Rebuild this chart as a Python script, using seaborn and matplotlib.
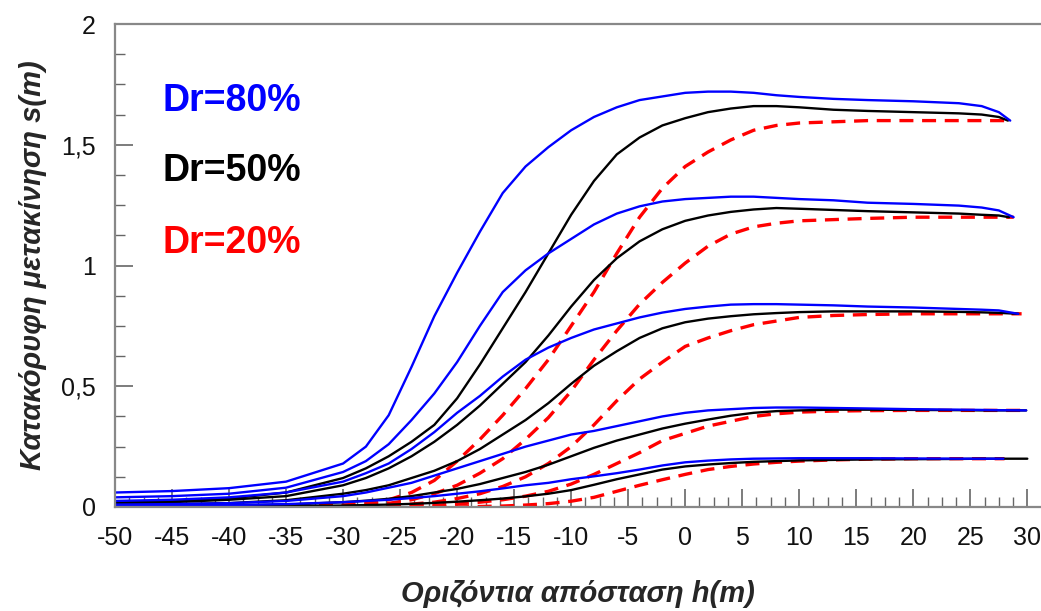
import matplotlib
matplotlib.use("Agg")
import matplotlib.pyplot as plt
import numpy as np
import pandas as pd
import seaborn as sns
from matplotlib.ticker import MultipleLocator, FuncFormatter

# ---------------- data ----------------
X_GRID = [-50, -45, -40, -35, -30, -28, -26, -24, -22, -20, -18, -16, -14, -12, -10,
          -8, -6, -4, -2, 0, 2, 4, 6, 8, 10, 13, 16, 20, 24, 26, 27.5]

LEVELS = ["1.6", "1.2", "0.8", "0.4", "0.2"]

# Dr = 80 % (blue)
DR80_16 = [.060, .066, .078, .105, .18, .25, .38, .58, .79, .97, 1.14, 1.30, 1.41, 1.49, 1.56,
           1.615, 1.655, 1.685, 1.70, 1.715, 1.72, 1.72, 1.715, 1.705, 1.698, 1.69, 1.685, 1.68, 1.672, 1.66, 1.635]
DR80_12 = [.04, .045, .055, .08, .145, .19, .26, .36, .47, .60, .75, .89, .98, 1.05, 1.11,
           1.17, 1.215, 1.245, 1.265, 1.275, 1.28, 1.285, 1.285, 1.28, 1.275, 1.27, 1.26, 1.255, 1.248, 1.24, 1.228]
DR80_08 = [.025, .03, .04, .06, .105, .14, .18, .24, .31, .39, .46, .54, .61, .66, .70,
           .735, .76, .785, .805, .82, .83, .838, .84, .84, .838, .835, .83, .826, .82, .817, .814]
DR80_04 = [.01, .012, .016, .025, .045, .06, .08, .10, .13, .16, .19, .22, .25, .275, .30,
           .315, .335, .355, .375, .39, .40, .405, .41, .412, .412, .41, .408, .405, .403, .402, .401]
DR80_02 = [.005, .006, .008, .012, .02, .025, .03, .037, .045, .055, .065, .077, .09, .10, .115,
           .127, .14, .155, .172, .185, .192, .197, .20, .201, .202, .202, .202, .201, .20, .20, .20]

# Dr = 50 % (black)
DR50_16 = [.02, .025, .035, .06, .12, .16, .21, .27, .34, .45, .59, .74, .89, 1.05, 1.21,
           1.35, 1.46, 1.53, 1.58, 1.61, 1.635, 1.65, 1.66, 1.66, 1.655, 1.645, 1.64, 1.635, 1.63, 1.625, 1.615]
DR50_12 = [.015, .02, .03, .045, .09, .12, .16, .21, .27, .34, .42, .51, .60, .71, .83,
           .94, 1.03, 1.10, 1.15, 1.185, 1.207, 1.222, 1.232, 1.238, 1.235, 1.23, 1.225, 1.22, 1.215, 1.21, 1.207]
DR50_08 = [.01, .012, .016, .028, .055, .07, .09, .12, .15, .19, .24, .30, .36, .43, .51,
           .585, .645, .70, .74, .765, .78, .79, .798, .803, .807, .81, .81, .81, .808, .806, .804]
DR50_04 = [.004, .005, .007, .01, .02, .026, .034, .045, .06, .075, .095, .12, .145, .175, .21,
           .245, .275, .30, .325, .345, .362, .378, .39, .397, .40, .403, .403, .402, .401, .40, .40]
DR50_02 = [.002, .002, .003, .004, .006, .008, .01, .013, .017, .022, .028, .035, .044, .055, .07,
           .092, .115, .135, .155, .168, .176, .182, .187, .19, .193, .195, .197, .198, .199, .20, .20]

# Dr = 20 % (red, dashed)
DR20_16 = [0, 0, 0, .002, .008, .015, .03, .06, .11, .19, .28, .38, .49, .61, .75,
           .89, 1.05, 1.20, 1.32, 1.41, 1.47, 1.52, 1.56, 1.58, 1.59, 1.595, 1.60, 1.60, 1.60, 1.60, 1.60]
DR20_12 = [0, 0, 0, .001, .004, .008, .015, .03, .055, .09, .14, .20, .28, .37, .48,
           .61, .73, .84, .93, 1.01, 1.08, 1.13, 1.16, 1.175, 1.185, 1.19, 1.195, 1.20, 1.20, 1.20, 1.20]
DR20_08 = [0, 0, 0, 0, .002, .004, .007, .012, .02, .035, .055, .085, .125, .18, .25,
           .34, .44, .53, .60, .665, .70, .73, .755, .77, .785, .793, .797, .80, .80, .80, .80]
DR20_04 = [0, 0, 0, 0, 0, .001, .002, .004, .007, .012, .02, .03, .045, .065, .095,
           .135, .18, .225, .275, .305, .335, .355, .375, .386, .393, .397, .399, .40, .40, .40, .40]
DR20_02 = [0, 0, 0, 0, 0, 0, 0, 0, 0, 0, .002, .004, .008, .014, .024,
           .04, .065, .09, .113, .135, .155, .168, .178, .185, .19, .195, .198, .20, .20, .20, .20]

# last point of each curve (x, y)
END_X = {"80": [28.5, 28.8, 29.2, 29.9, 27.9],
         "50": [28.3, 28.4, 29.2, 29.9, 30.0],
         "20": [28.3, 28.8, 29.5, 29.9, 28.0]}
END_Y = [1.60, 1.20, 0.80, 0.40, 0.20]

Y_TICKS = [0, 0.5, 1, 1.5, 2]
X_TICKS = list(range(-50, 31, 5))

LABEL_TEXT = {"80": "Dr=80%", "50": "Dr=50%", "20": "Dr=20%"}

# ---------------- build a long table ----------------
series = {"80": [DR80_16, DR80_12, DR80_08, DR80_04, DR80_02],
          "50": [DR50_16, DR50_12, DR50_08, DR50_04, DR50_02],
          "20": [DR20_16, DR20_12, DR20_08, DR20_04, DR20_02]}
rows = []
for dr, curves in series.items():
    for i, (lev, vals) in enumerate(zip(LEVELS, curves)):
        xs = list(X_GRID) + [END_X[dr][i]]
        ys = list(vals) + [END_Y[i]]
        for x, y in zip(xs, ys):
            if x <= END_X[dr][i]:
                rows.append({"h": x, "s": y, "Dr": dr, "level": lev})
df = pd.DataFrame(rows)

# ---------------- styling ----------------
sns.set_style("ticks")
plt.rcParams["font.family"] = ["Liberation Sans", "DejaVu Sans"]
plt.rcParams["axes.unicode_minus"] = False

fig = plt.figure(figsize=(10.41, 6.11), dpi=100)
ax = fig.add_axes([115 / 1041, (611 - 507) / 611, 1 - 115 / 1041, (507 - 24) / 611])

styles = {"80": dict(color="#0000FF", lw=1.7, dash=None),
          "50": dict(color="#000000", lw=1.7, dash=None),
          "20": dict(color="#FF0000", lw=2.4, dash=(4.2, 2.6))}

for dr in ["20", "50", "80"]:
    sub = df[df["Dr"] == dr]
    st = styles[dr]
    sns.lineplot(data=sub, x="h", y="s", units="level", estimator=None, sort=False,
                 color=st["color"], linewidth=st["lw"], ax=ax, legend=False,
                 dashes=False)
    for ln in ax.lines[-len(LEVELS):]:
        ln.set_solid_joinstyle("round")
        if st["dash"] is not None:
            ln.set_dashes(st["dash"])
            ln.set_dash_capstyle("butt")

ax.set_xlim(-50, 31.2)
ax.set_ylim(0, 2)

ax.set_xticks(X_TICKS)
ax.set_yticks(Y_TICKS)
ax.xaxis.set_minor_locator(MultipleLocator(1.25))
ax.yaxis.set_minor_locator(MultipleLocator(0.125))
ax.yaxis.set_major_formatter(FuncFormatter(lambda v, p: ("%g" % v).replace(".", ",")))
ax.xaxis.set_major_formatter(FuncFormatter(lambda v, p: "%d" % v))

ax.tick_params(which="major", direction="in", length=13, width=1.2, color="#666666",
               labelsize=18, pad=14, labelcolor="#111111")
ax.tick_params(which="minor", direction="in", length=7, width=1.0, color="#666666")
ax.tick_params(axis="x", which="both", top=False)
ax.tick_params(axis="y", which="both", right=False)

for side in ["left", "bottom", "top"]:
    ax.spines[side].set_color("#888888")
    ax.spines[side].set_linewidth(1.6)
ax.spines["right"].set_visible(False)

ax.set_xlabel("Οριζόντια απόσταση h(m)", fontsize=21, fontweight="bold",
              fontstyle="italic", labelpad=21)
ax.set_ylabel("Κατακόρυφη μετακίνηση s(m)", fontsize=21, fontweight="bold",
              fontstyle="italic", labelpad=10)

label_y = {"80": 1.68, "50": 1.39, "20": 1.092}
label_c = {"80": "#0000FF", "50": "#000000", "20": "#FF0000"}
for dr in ["80", "50", "20"]:
    ax.text(-45.8, label_y[dr], LABEL_TEXT[dr], color=label_c[dr], fontsize=27,
            fontweight="bold", va="center", ha="left")

fig.savefig("out.png", dpi=100)
